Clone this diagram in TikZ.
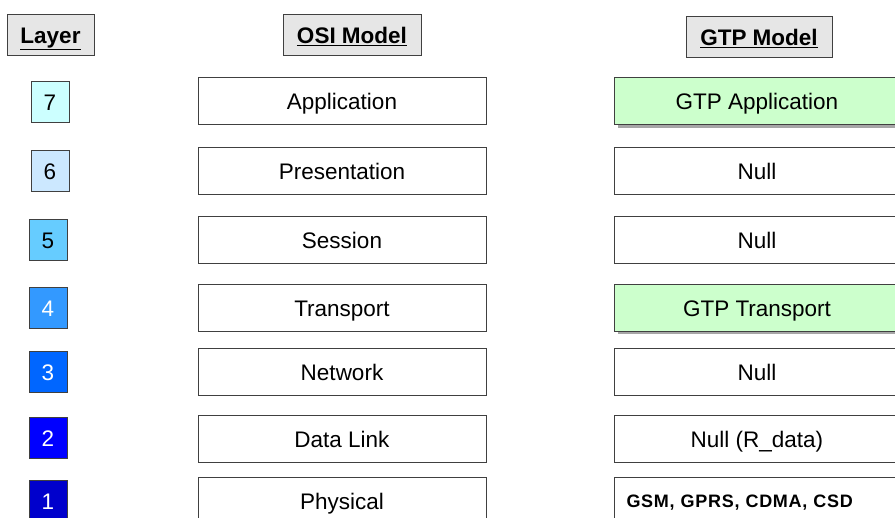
\documentclass[tikz,border=0pt]{standalone}
\usepackage{fontspec}
\setmainfont{Liberation Sans}
\usetikzlibrary{shadows}
\definecolor{edge}{HTML}{404040}
\definecolor{headfill}{HTML}{E6E6E6}
\definecolor{gtpgreen}{HTML}{CCFFCC}
\definecolor{lay7}{HTML}{CCFFFF}
\definecolor{lay6}{HTML}{CCE8FF}
\definecolor{lay5}{HTML}{66CCFF}
\definecolor{lay4}{HTML}{3399FF}
\definecolor{lay3}{HTML}{0066FF}
\definecolor{lay2}{HTML}{0000FF}
\definecolor{lay1}{HTML}{0000CC}
\tikzset{
  base/.style={draw=edge, line width=1pt, inner sep=0pt, text height=16.1pt, text depth=0pt,
    font=\fontsize{22.5}{26}\selectfont},
  headbox/.style={base, fill=headfill, minimum height=41pt, font=\fontsize{22.5}{26}\selectfont\bfseries},
  laybox/.style={base, minimum width=38pt, minimum height=41pt},
  osibox/.style={base, fill=white, minimum width=288pt, minimum height=47pt},
  gtpbox/.style={base, fill=white, minimum width=285pt, minimum height=47pt},
  gtpgreenbox/.style={gtpbox, fill=gtpgreen, drop shadow={shadow xshift=3pt, shadow yshift=-3pt, fill=gray!70, opacity=1}},
}
\newcommand{\hdr}[1]{\underline{#1}}
\begin{document}
\begin{tikzpicture}[x=1pt, y=-1pt]
  \useasboundingbox (0,0) rectangle (895,518);
  \fill[white] (0,0) rectangle (895,518);
  \clip (0,0) rectangle (895,518);

  % column headings
  \node[headbox, minimum width=87pt]  (hLayer) at (50.5,35.5) {\hdr{Layer}};
  \node[headbox, minimum width=138pt] (hOSI)   at (352,35.5)  {\hdr{OSI Model}};
  \node[headbox, minimum width=146pt] (hGTP)   at (759,37.5)  {\hdr{GTP Model}};

  % layer numbers
  \node[laybox, fill=lay7]             (l7) at (50,102) {7};
  \node[laybox, fill=lay6]             (l6) at (50,171) {6};
  \node[laybox, fill=lay5]             (l5) at (48,240) {5};
  \node[laybox, fill=lay4, text=white] (l4) at (48,308) {4};
  \node[laybox, fill=lay3, text=white] (l3) at (48,372) {3};
  \node[laybox, fill=lay2, text=white] (l2) at (48,438.5) {2};
  \node[laybox, fill=lay1, text=white] (l1) at (48,501) {1};

  % OSI stack
  \node[osibox] (o7) at (342,101.5) {Application};
  \node[osibox] (o6) at (342,171)   {Presentation};
  \node[osibox] (o5) at (342,240)   {Session};
  \node[osibox] (o4) at (342,308)   {Transport};
  \node[osibox] (o3) at (342,372)   {Network};
  \node[osibox] (o2) at (342,439)   {Data Link};
  \node[osibox] (o1) at (342,501.5) {Physical};

  % GTP stack
  \node[gtpgreenbox] (g7) at (757,101.5) {GTP Application};
  \node[gtpbox]      (g6) at (757,171)   {Null};
  \node[gtpbox]      (g5) at (757,240)   {Null};
  \node[gtpgreenbox] (g4) at (757,308)   {GTP Transport};
  \node[gtpbox]      (g3) at (757,372)   {Null};
  \node[gtpbox]      (g2) at (757,439)   {Null (R\_data)};
  \node[gtpbox, align=left, text width=261pt, text height=12.9pt,
        font=\fontsize{18}{21}\selectfont\bfseries] (g1) at (757,501.5)
    {\addfontfeature{LetterSpace=4}GSM, GPRS, CDMA, CSD};
\end{tikzpicture}
\end{document}
